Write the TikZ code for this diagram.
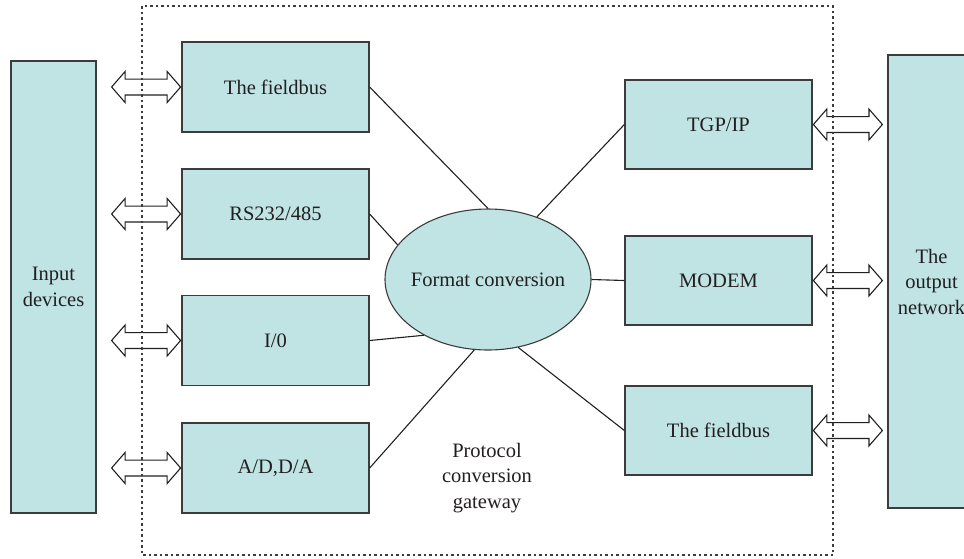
\documentclass[tikz,border=0pt]{standalone}
\usepackage{fontspec}
\setmainfont{Liberation Serif}
\usetikzlibrary{shapes.geometric,shapes.arrows,calc}
\definecolor{boxfill}{HTML}{BFE4E3}
\definecolor{edge}{HTML}{3C3C3C}
\definecolor{ink}{HTML}{231F20}

\begin{document}
\begin{tikzpicture}[x=1pt,y=-1pt,
  every node/.style={font=\fontsize{20.5}{25.5}\selectfont, text=ink},
  block/.style={draw=edge, fill=boxfill, line width=1.3pt, minimum width=187pt, minimum height=90pt, inner sep=0pt},
  tallblock/.style={draw=edge, fill=boxfill, line width=1.3pt, minimum height=452pt, inner sep=0pt, align=center},
  hub/.style={ellipse, draw=edge, fill=boxfill, line width=1.1pt, minimum width=206pt, minimum height=141pt,
    inner xsep=-8pt, inner ysep=0pt},
  link/.style={draw=ink, line width=1.1pt},
  dbl/.style={double arrow, draw=ink, fill=white, line width=1.1pt, minimum height=69pt, minimum width=0pt,
    inner xsep=0pt, inner ysep=7.4pt, double arrow head extend=7.5pt, double arrow tip angle=98},
  gateway/.style={draw=edge, line width=1.2pt, dash pattern=on 2.5pt off 3pt}
]
\useasboundingbox (0,0) rectangle (964,558);

% outer devices and networks
\node[tallblock, minimum width=85pt] (inp) at (53.5,287) {Input\\devices};
\node[tallblock, minimum width=87pt, minimum height=453pt] (outp) at (931.5,281.5) {The\\output\\network};

% field-side interfaces
\node[block] (fbL) at (275.5,87) {The fieldbus};
\node[block] (rs) at (275.5,214) {RS232/485};
\node[block] (io) at (275.5,340.5) {I/0};
\node[block] (ad) at (275.5,468) {A/D,D/A};

% network-side interfaces
\node[block, minimum height=89pt] (tgp) at (718.5,124.5) {TGP/IP};
\node[block, minimum height=89pt] (modem) at (718.5,280.5) {MODEM};
\node[block, minimum height=89pt] (fbR) at (718.5,430.5) {The fieldbus};

% central converter
\node[hub] (hub) at (488,279.5) {Format conversion};

\node[align=center] (gwlabel) at (487,478) {Protocol\\conversion\\gateway};

% links to the converter
\draw[link] (fbL.east) -- (hub.90);
\draw[link] (rs.east) -- (hub.159);
\draw[link] (io.east) -- (hub.221.5);
\draw[link] (ad.east) -- (hub.259);
\draw[link] (tgp.west) -- (hub.52);
\draw[link] (modem.west) -- (hub.east);
\draw[link] (fbR.west) -- (hub.294);

% bidirectional data paths
\node[dbl, anchor=east] (a1) at (fbL.west) {};
\node[dbl, anchor=east] (a2) at (rs.west) {};
\node[dbl, anchor=east] (a3) at (io.west) {};
\node[dbl, anchor=east] (a4) at (ad.west) {};
\node[dbl, anchor=west] (b1) at (tgp.east) {};
\node[dbl, anchor=west] (b2) at (modem.east) {};
\node[dbl, anchor=west] (b3) at (fbR.east) {};

% gateway boundary
\draw[gateway] (142,6) rectangle (833,555);
\end{tikzpicture}
\end{document}
